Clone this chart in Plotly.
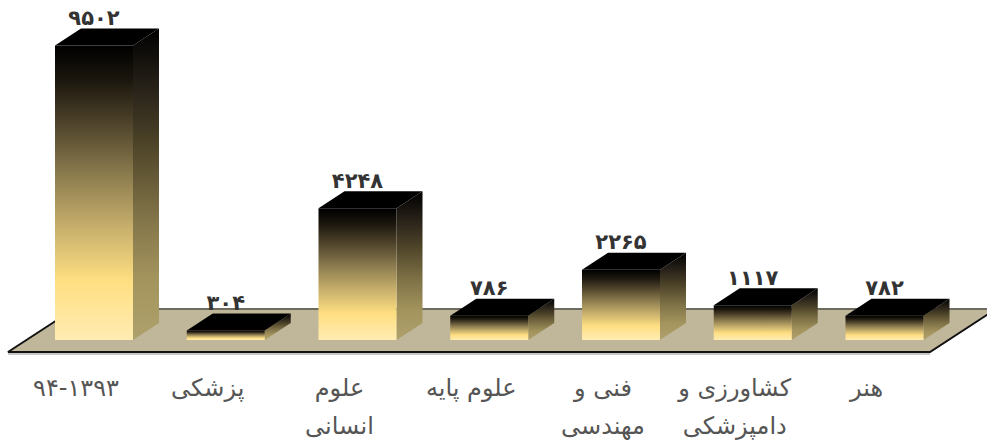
import plotly.graph_objects as go

label_line1 = ["۹۴-۱۳۹۳", "پزشکی", "علوم", "علوم پایه", "فنی و", "کشاورزی و", "هنر"]
label_line2 = ["", "", "انسانی", "", "مهندسی", "دامپزشکی", ""]
value_text = ["۹۵۰۲", "۳۰۴", "۴۲۴۸", "۷۸۶", "۲۲۶۵", "۱۱۱۷", "۷۸۲"]
values = [9502, 304, 4248, 786, 2265, 1117, 782]

W, H = 987, 445
SLOT_PX = 131.75
FIRST_PX = 94.0
BASE_PX = 340.0
PX_PER_UNIT = 0.031
def ux(px): return px / SLOT_PX
def uy(px): return px / PX_PER_UNIT

x_range = [-FIRST_PX / SLOT_PX, (W - FIRST_PX) / SLOT_PX]
y_range = [(BASE_PX - H) / PX_PER_UNIT, BASE_PX / PX_PER_UNIT]

half = ux(39)
dx, dy = ux(26), uy(17)

FRONT = [[0, "#FFECB2"], [0.2, "#FFDF82"], [0.38, "#C8B06C"], [0.55, "#8F7F50"],
         [0.72, "#54482E"], [0.88, "#1C170E"], [1, "#000000"]]
SIDE = [[0, "#AFA16C"], [0.2, "#A3945D"], [0.42, "#7C6F45"], [0.62, "#4F4529"],
        [0.8, "#29231A"], [1, "#000000"]]

fig = go.Figure()

# floor
fl_front, fl_back = uy(-12), uy(31)
fl_xl, fl_xr = ux(8 - FIRST_PX), ux(930 - FIRST_PX)
fl_shift = ux(66)
fig.add_trace(go.Scatter(
    x=[fl_xl, fl_xr, fl_xr + fl_shift, fl_xl + fl_shift, fl_xl],
    y=[fl_front, fl_front, fl_back, fl_back, fl_front],
    mode="none", fill="toself", fillcolor="#C0B79B", hoverinfo="skip"))
fig.add_trace(go.Scatter(
    x=[fl_xl + fl_shift, fl_xr + fl_shift], y=[fl_back, fl_back], mode="lines",
    line=dict(color="#6E6C60", width=2), hoverinfo="skip"))
fig.add_trace(go.Scatter(
    x=[fl_xl, fl_xr], y=[fl_front - uy(2), fl_front - uy(2)], mode="lines",
    line=dict(color="#B5B5B5", width=1.5), hoverinfo="skip"))
fig.add_trace(go.Scatter(
    x=[fl_xl + fl_shift, fl_xl, fl_xr, fl_xr + fl_shift],
    y=[fl_back, fl_front, fl_front, fl_back], mode="lines",
    line=dict(color="#111111", width=2), hoverinfo="skip"))

# 3-D columns
for i, v in enumerate(values):
    l, r = i - half, i + half
    # side face
    fig.add_trace(go.Scatter(
        x=[r, r + dx, r + dx, r, r], y=[0, dy, v + dy, v, 0],
        mode="lines", line=dict(width=0), fill="toself", hoverinfo="skip",
        fillgradient=dict(type="vertical", colorscale=SIDE)))
    # top face
    fig.add_trace(go.Scatter(
        x=[l, r, r + dx, l + dx, l], y=[v, v, v + dy, v + dy, v],
        mode="none", fill="toself", fillcolor="#000000", hoverinfo="skip"))
    # front face
    fig.add_trace(go.Scatter(
        x=[l, r, r, l, l], y=[0, 0, v, v, 0],
        mode="lines", line=dict(width=0), fill="toself", hoverinfo="skip",
        fillgradient=dict(type="vertical", colorscale=FRONT)))

# value labels
fig.add_trace(go.Scatter(
    x=list(range(len(values))), y=[v + dy + uy(9) for v in values],
    mode="text", text=value_text, textposition="middle center",
    textfont=dict(family="DejaVu Sans", size=21, color="#333333", weight="bold"),
    cliponaxis=False, hoverinfo="skip"))

# category labels
lab_off = ux(-18)
fig.add_trace(go.Scatter(
    x=[i + lab_off for i in range(len(label_line1))], y=[uy(-50)] * len(label_line1),
    mode="text", text=label_line1, textposition="middle center",
    textfont=dict(family="DejaVu Sans", size=24, color="#555555"), hoverinfo="skip"))
fig.add_trace(go.Scatter(
    x=[i + lab_off for i in range(len(label_line2))], y=[uy(-88)] * len(label_line2),
    mode="text", text=label_line2, textposition="middle center",
    textfont=dict(family="DejaVu Sans", size=24, color="#555555"), hoverinfo="skip"))

fig.update_layout(
    width=W, height=H, margin=dict(l=0, r=0, t=0, b=0),
    paper_bgcolor="white", plot_bgcolor="white", showlegend=False,
    xaxis=dict(range=x_range, visible=False, fixedrange=True),
    yaxis=dict(range=y_range, visible=False, fixedrange=True),
)
fig.write_html("out.html", config=dict(displayModeBar=False),
               post_script="document.body.style.margin='0';document.body.style.overflow='hidden';")
